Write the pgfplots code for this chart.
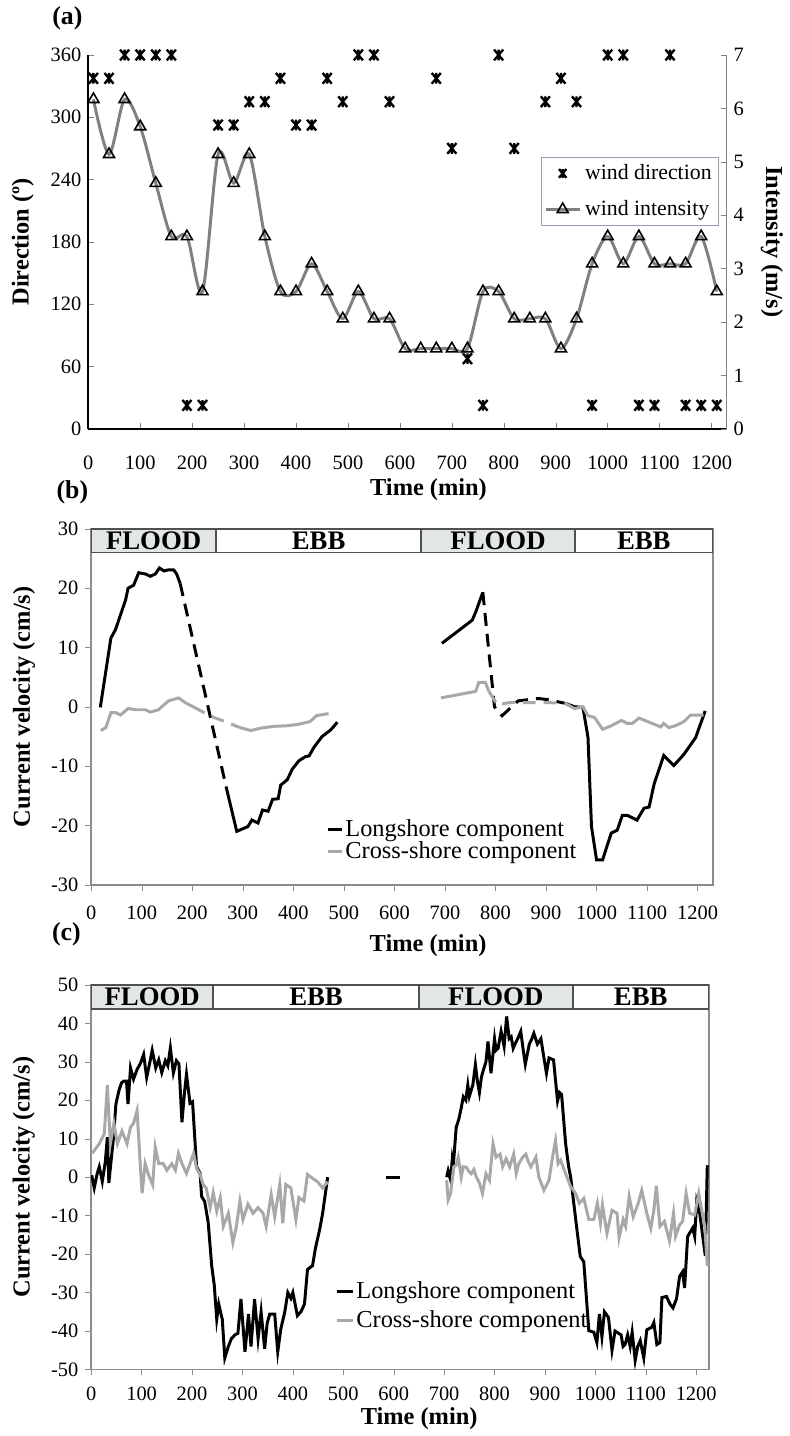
\documentclass[border=0pt]{standalone}
\usepackage{fontspec}
\setmainfont{Liberation Serif}
\usepackage{pgfplots}
\pgfplotsset{compat=1.18}
\definecolor{windgray}{HTML}{808080}
\definecolor{crossgray}{HTML}{A8A8A8}
\definecolor{axisgray}{HTML}{8C8C8C}
\definecolor{bandline}{HTML}{505050}
\definecolor{floodfill}{HTML}{E2E6E7}
\definecolor{legline}{HTML}{9A9AB0}

\newcommand{\ticksize}{\fontsize{10.3}{12.4}\selectfont}
\newcommand{\labsize}{\fontsize{12.3}{15}\selectfont\bfseries}

% Excel-like star: an x with a vertical stroke
\pgfdeclareplotmark{xstar}{%
  \pgfpathmoveto{\pgfqpoint{-0.85\pgfplotmarksize}{-\pgfplotmarksize}}%
  \pgfpathlineto{\pgfqpoint{0.85\pgfplotmarksize}{\pgfplotmarksize}}%
  \pgfpathmoveto{\pgfqpoint{-0.85\pgfplotmarksize}{\pgfplotmarksize}}%
  \pgfpathlineto{\pgfqpoint{0.85\pgfplotmarksize}{-\pgfplotmarksize}}%
  \pgfpathmoveto{\pgfqpoint{0pt}{-\pgfplotmarksize}}%
  \pgfpathlineto{\pgfqpoint{0pt}{\pgfplotmarksize}}%
  \pgfusepathqstroke}

\tikzset{
  band/.style={draw=bandline, line width=0.9pt},
  bandtext/.style={font=\fontsize{13.5}{15}\selectfont\bfseries},
}
\pgfplotsset{
  every axis/.append style={
    scale only axis,
    /pgf/number format/assume math mode=true,
    /pgf/number format/1000 sep={},
    tick label style={font=\ticksize},
    label style={font=\labsize},
    major tick length=3pt,
  },
  long/.style={black, line width=1.5pt, forget plot},
  cross/.style={crossgray, line width=1.5pt, forget plot},
  gap/.style={dash pattern=on 6.5pt off 4pt},
  dirmark/.style={only marks, mark=xstar, mark size=2.7pt,
    mark options={line width=1.2pt, black}},
}

\begin{document}
\begin{tikzpicture}
\path (0pt,0pt) rectangle (395pt,-718pt);

% panel labels
\node[font=\fontsize{13}{15}\selectfont\bfseries] at (34pt,-9pt) {(a)};
\node[font=\fontsize{13}{15}\selectfont\bfseries] at (36.5pt,-248pt) {(b)};
\node[font=\fontsize{13}{15}\selectfont\bfseries] at (33.5pt,-471pt) {(c)};

% ---------- (a) wind direction ----------
\begin{axis}[
  at={(44.5pt,-216pt)}, anchor=south west,
  width=322pt, height=188.5pt,
  xmin=0, xmax=1229, ymin=0, ymax=360,
  axis x line*=bottom, axis y line*=left,
  axis line style={black, line width=0.8pt},
  xtick={0,100,...,1200}, ytick={0,60,...,360},
  tick align=inside,
  xticklabel style={yshift=-10pt},
  xlabel={Time (min)}, ylabel={Direction (º)},
  xlabel style={at={(axis description cs:0.533,-0.163)}, anchor=center},
  ylabel style={at={(axis description cs:-0.1025,0.5)}, anchor=center},
  clip=false,
]
\addplot[dirmark]
  coordinates {
  (10,337.5) (40,337.5) (70,360) (100,360) (130,360) (160,360) (190,22.5) (220,22.5)
  (250,292.5) (280,292.5) (310,315) (340,315) (370,337.5) (400,292.5) (430,292.5)
  (460,337.5) (490,315) (520,360) (550,360) (580,315) (670,337.5) (700,270) (730,67.5)
  (760,22.5) (790,360) (820,270) (880,315) (910,337.5) (940,315) (970,22.5) (1000,360)
  (1030,360) (1060,22.5) (1090,22.5) (1120,360) (1150,22.5) (1180,22.5) (1210,22.5)
  };
\end{axis}

% ---------- (a) wind intensity ----------
\begin{axis}[
  at={(44.5pt,-216pt)}, anchor=south west,
  width=322pt, height=188.5pt,
  xmin=0, xmax=1229, ymin=0, ymax=7,
  axis y line*=right, axis x line=none,
  y axis line style={windgray, line width=0.8pt},
  ytick={0,1,...,7}, tick align=inside,
  ylabel={Intensity (m/s)},
  ylabel style={rotate=180, at={(axis description cs:1.071,0.5)}, anchor=center},
  clip=false,
  legend cell align=left,
  legend style={at={(0.988,0.727)}, anchor=north east, draw=legline,
    font=\fontsize{11}{13}\selectfont, row sep=5pt, inner sep=1.5pt},
]
\addlegendimage{dirmark, mark size=2.2pt}
\addlegendentry{wind direction}
\addplot[windgray, line width=1.5pt, smooth, mark=triangle, mark size=3.2pt,
  mark options={solid, fill=white, draw=black, line width=0.8pt}]
  coordinates {
  (10,6.17) (40,5.14) (70,6.17) (100,5.66) (130,4.6) (160,3.6) (190,3.6) (220,2.57)
  (250,5.14) (280,4.6) (310,5.14) (340,3.6) (370,2.57) (400,2.57) (430,3.09)
  (460,2.57) (490,2.06) (520,2.57) (550,2.06) (580,2.06) (610,1.5) (640,1.5)
  (670,1.5) (700,1.5) (730,1.5) (760,2.57) (790,2.57) (820,2.06) (850,2.06)
  (880,2.06) (910,1.5) (940,2.06) (970,3.09) (1000,3.6) (1030,3.09) (1060,3.6)
  (1090,3.09) (1120,3.09) (1150,3.09) (1180,3.6) (1210,2.57)
  };
\addlegendentry{wind intensity}
\end{axis}

% ---------- (b) ----------
\begin{axis}[
  at={(46pt,-446pt)}, anchor=south west,
  width=313.5pt, height=179.5pt,
  xmin=0, xmax=1230, ymin=-30, ymax=30,
  axis line style={axisgray, line width=0.8pt},
  xtick={0,100,...,1200}, ytick={-30,-20,...,30},
  xtick pos=bottom, ytick pos=left, tick align=outside,
  tick style={axisgray},
  xticklabel style={yshift=-4pt},
  xlabel={Time (min)}, ylabel={Current velocity (cm/s)},
  xlabel style={at={(axis description cs:0.542,-0.172)}, anchor=center},
  ylabel style={at={(axis description cs:-0.108,0.5)}, anchor=center},
  legend cell align=left,
  legend image code/.code={\draw[#1] (0pt,0pt) -- (7pt,0pt);},
  legend style={at={(0.378,0.19)}, anchor=north west, draw=none, fill=none,
    font=\fontsize{12.3}{14}\selectfont, row sep=-1pt, inner sep=0pt,
    nodes={inner sep=1pt}},
]
\draw[band, fill=floodfill] (axis cs:0,26) rectangle (axis cs:247,30)
  node[midway, bandtext] {FLOOD};
\draw[band, fill=white] (axis cs:247,26) rectangle (axis cs:653,30)
  node[midway, bandtext] {EBB};
\draw[band, fill=floodfill] (axis cs:653,26) rectangle (axis cs:957,30)
  node[midway, bandtext] {FLOOD};
\draw[band, fill=white] (axis cs:957,26) rectangle (axis cs:1230,30)
  node[midway, bandtext] {EBB};

\addplot[long] coordinates {
  (18,-0.1) (39,11.6) (48,13) (68,18) (73,20) (84,20.5) (94,22.6) (107,22.4)
  (117,22) (127,22.4) (135,23.4) (144,22.9) (153,23.1) (163,23.1) (169,22.4) (176,20.8)};
\addplot[long, gap] coordinates {(176,20.8) (267,-13.5)};
\addplot[long] coordinates {
  (267,-13.5) (288,-21.0) (310,-20.2) (318,-19.1) (330,-19.6) (339,-17.4) (350,-17.6)
  (359,-15.6) (370,-15.5) (375,-13.2) (388,-12.3) (398,-10.5) (411,-9.1) (424,-8.4)
  (431,-8.3) (441,-6.8) (457,-5.0) (474,-3.9) (487,-2.6)};
\addplot[long] coordinates {(694,10.7) (754,14.6) (761,16.0) (775,19.3)};
\addplot[long, gap] coordinates {
  (775,19.3) (798,0) (813,-1.5) (845,1.0) (885,1.4) (904,1.2) (937,0.6)};
\addplot[long] coordinates {
  (937,0.6) (957,0.0) (973,-0.1) (983,-5.1) (990,-20.2) (1000,-25.8) (1012,-25.8)
  (1029,-21.3) (1041,-20.8) (1051,-18.3) (1061,-18.3) (1080,-19.1) (1094,-17.1)
  (1104,-16.9) (1114,-13.0) (1133,-8.2) (1153,-9.9) (1173,-8.0) (1196,-5.2) (1215,-0.7)};

\addplot[cross] coordinates {
  (19,-4.0) (29,-3.5) (39,-1.0) (49,-1.0) (58,-1.4) (73,-0.3) (88,-0.5) (107,-0.5)
  (117,-0.9) (133,-0.5) (153,1.0) (173,1.5) (186,0.7) (202,0.0)};
\addplot[cross, gap] coordinates {(202,0) (237,-1.6) (268,-2.6) (294,-3.5)};
\addplot[cross] coordinates {
  (294,-3.5) (316,-4.0) (335,-3.6) (361,-3.3) (387,-3.2) (407,-3.0) (433,-2.5)
  (446,-1.5) (465,-1.2) (470,-1.2)};
\addplot[cross] coordinates {(692,1.5) (761,2.6) (767,4.1) (780,4.1) (787,2.6)};
\addplot[cross, gap] coordinates {
  (787,2.6) (804,0.3) (826,0.7) (878,0.7) (904,0.7) (937,0.6)};
\addplot[cross] coordinates {
  (937,0.6) (957,-0.3) (973,0) (983,-1.5) (996,-1.8) (1012,-3.8) (1029,-3.2)
  (1049,-2.3) (1061,-2.8) (1071,-2.8) (1084,-1.9) (1107,-2.7) (1127,-3.4)
  (1133,-2.8) (1143,-3.5) (1156,-3.2) (1173,-2.5) (1186,-1.4) (1212,-1.4)};

\addlegendimage{black, line width=1.5pt}
\addlegendentry{Longshore component}
\addlegendimage{crossgray, line width=1.5pt}
\addlegendentry{Cross-shore component}
\end{axis}

% ---------- (c) ----------
\begin{axis}[
  at={(46pt,-690.5pt)}, anchor=south west,
  width=311.5pt, height=194pt,
  xmin=0, xmax=1225, ymin=-50, ymax=50,
  axis line style={axisgray, line width=0.8pt},
  xtick={0,100,...,1200}, ytick={-50,-40,...,50},
  xtick pos=bottom, ytick pos=left, tick align=outside,
  tick style={axisgray},
  xticklabel style={yshift=-2.5pt},
  xlabel={Time (min)}, ylabel={Current velocity (cm/s)},
  xlabel style={at={(axis description cs:0.531,-0.127)}, anchor=center},
  ylabel style={at={(axis description cs:-0.109,0.5)}, anchor=center},
  legend cell align=left,
  legend image code/.code={\draw[#1] (0pt,0pt) -- (8pt,0pt);},
  legend style={at={(0.395,0.235)}, anchor=north west, draw=none, fill=none,
    font=\fontsize{12.3}{14}\selectfont, row sep=2.5pt, inner sep=0pt,
    nodes={inner sep=1pt}},
]
\draw[band, fill=floodfill] (axis cs:0,43.8) rectangle (axis cs:242,50)
  node[midway, bandtext] {FLOOD};
\draw[band, fill=white] (axis cs:242,43.8) rectangle (axis cs:650,50)
  node[midway, bandtext] {EBB};
\draw[band, fill=floodfill] (axis cs:650,43.8) rectangle (axis cs:955,50)
  node[midway, bandtext] {FLOOD};
\draw[band, fill=white] (axis cs:955,43.8) rectangle (axis cs:1225,50)
  node[midway, bandtext] {EBB};

\addplot[long] coordinates {
  (1,0.5) (6,-2.8) (12,1) (16,2.7) (22,-1.1) (28,4) (32,10.4) (35,-1.5) (40,5)
  (44,10) (49,19) (55,22.5) (60,24.5) (65,25) (70,25) (73,19) (78,28.4) (84,25.5)
  (91,28) (98,29.7) (104,31.9) (110,25.9) (115,29) (121,33) (128,28.4) (134,30.5)
  (140,27.2) (147,30.3) (152,29) (157,33.6) (163,27.1) (169,30.3) (174,29.5)
  (180,14.3) (185,22) (189,26.8) (196,19.2) (201,19.6) (209,2.7) (216,1) (219,-5)
  (225,-6.3) (232,-11.7) (239,-23) (244,-28) (249,-36.9) (253,-33) (260,-37)
  (265,-47) (272,-44) (278,-42) (285,-41) (291,-40.6) (297,-31.7) (305,-45.4)
  (312,-35.6) (317,-44) (324,-31.7) (331,-42) (337,-35) (344,-44.6) (349,-38)
  (354,-35.6) (364,-35.6) (370,-45.4) (376,-39.5) (384,-35) (390,-30) (396,-31.5)
  (400,-30) (409,-36) (416,-35) (423,-33) (429,-24) (439,-23) (445,-18.3)
  (453,-13.7) (459,-9.4) (469,0)};
\addplot[long] coordinates {(585,0) (612,0)};
\addplot[long] coordinates {
  (705,0) (708,1.7) (713,-0.8) (716,4.4) (718,2.7) (724,13) (729,15) (734,18)
  (738,20.9) (743,20) (747,24) (750,21) (757,24) (762,29.3) (766,25) (770,22)
  (774,26) (778,27.9) (783,30) (787,35.3) (793,27) (800,36) (803,33) (807,33.5)
  (813,37.9) (819,34) (824,41.8) (829,36) (833,36.5) (837,33.5) (842,35) (846,36)
  (852,37.9) (857,33) (861,29.3) (865,32) (869,34.6) (874,36) (878,37.4)
  (885,34.6) (892,36) (898,31) (903,27) (908,31) (917,30.5) (925,19.8) (929,22)
  (933,21.5) (941,8.7) (947,2.7) (951,0) (961,-11) (970,-20.6) (977,-22)
  (987,-39.9) (997,-40.3) (1003,-43) (1008,-35.6) (1013,-41.5) (1018,-35)
  (1026,-36.5) (1033,-45) (1039,-40) (1045,-40.5) (1051,-41) (1055,-44)
  (1059,-43.5) (1064,-41) (1069,-44) (1073,-40.3) (1079,-47.6) (1084,-44)
  (1089,-42.5) (1096,-47) (1102,-39.7) (1112,-39) (1116,-37.8) (1122,-43.5)
  (1128,-43) (1132,-31.3) (1141,-31) (1148,-33) (1154,-34) (1161,-31.6)
  (1167,-25.8) (1173,-24.6) (1177,-28.8) (1183,-15.4) (1193,-13.2) (1197,-15.4)
  (1201,-6.4) (1207,-9.4) (1213,-15.4) (1218,-20.4) (1222,3.1)};

\addplot[cross] coordinates {
  (2,6.2) (16,8.7) (26,11.3) (32,24) (38,8.7) (45,14) (52,8.7) (61,12) (71,8.7)
  (78,13) (84,14) (91,17.3) (98,1.8) (101,-4.2) (107,3.5) (114,0.5) (122,-2)
  (127,7.8) (134,3.5) (143,3.5) (150,1.8) (160,3.5) (167,1.8) (173,6.2) (180,3.5)
  (189,1) (196,3.5) (203,6.2) (209,2.3) (216,0.7) (222,-1.9) (228,-2.8) (236,-7.9)
  (242,-4) (249,-8.8) (256,-5.3) (262,-12.8) (272,-9.4) (281,-17) (288,-12.8)
  (295,-6.2) (301,-11) (311,-7) (321,-9.4) (331,-7.9) (341,-9.4) (347,-12.8)
  (357,-4.5) (364,-10.3) (374,-1.9) (380,-12) (386,-1.9) (396,-2.8) (406,-11)
  (412,-5.3) (422,-6.2) (429,0.7) (439,-0.3) (449,-1.2) (459,-2.8) (469,-1.2)};
\addplot[cross] coordinates {
  (705,-0.8) (708,-5.9) (713,-4.2) (719,2.7) (724,3.1) (728,5.2) (731,2.7) (734,0)
  (738,2.7) (744,2.6) (749,1.5) (754,0.9) (759,2) (764,0) (770,-1.5) (776,-4.2)
  (783,0.9) (790,-0.8) (797,8.7) (803,5.2) (811,6) (816,2.7) (823,4.8) (830,2.7)
  (838,6) (843,1) (848,3.5) (856,5.2) (862,6) (867,4) (872,2.7) (882,5.2) (888,0)
  (898,-3.4) (908,-0.8) (915,5.2) (921,9.5) (926,3.5) (931,4.4) (941,0.9)
  (951,-2.5) (961,-4.2) (968,-6.8) (977,-5.5) (987,-11) (997,-11) (1004,-6.8)
  (1010,-11.9) (1014,-7.2) (1023,-14.6) (1033,-8.6) (1043,-9.4) (1047,-15.8)
  (1055,-11) (1060,-12.8) (1067,-5) (1075,-10.3) (1085,-6.8) (1092,-3.4)
  (1102,-9.4) (1110,-13.3) (1116,-8.6) (1121,-2.2) (1128,-12.8) (1137,-11.5)
  (1147,-16.6) (1155,-9.4) (1159,-15.4) (1167,-12.4) (1173,-11.5) (1180,-4.2)
  (1187,-9.4) (1197,-9.8) (1205,-4.2) (1211,-8.6) (1217,-12.8) (1222,-23.1)};

\addlegendimage{black, line width=1.5pt}
\addlegendentry{Longshore component}
\addlegendimage{crossgray, line width=1.5pt}
\addlegendentry{Cross-shore component}
\end{axis}
\end{tikzpicture}
\end{document}
